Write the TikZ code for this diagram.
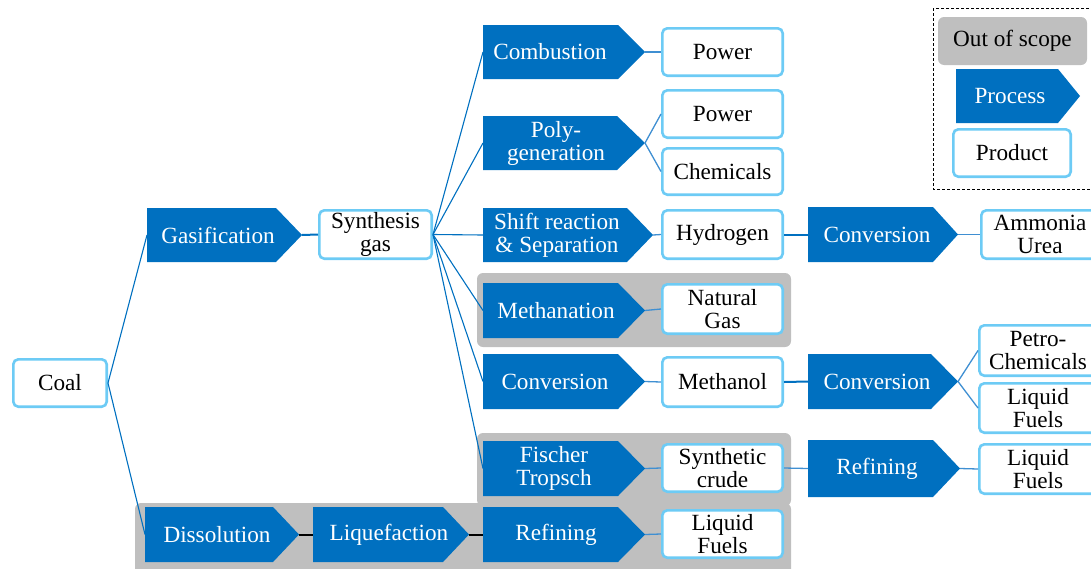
\documentclass[tikz,border=0pt]{standalone}
\usepackage{fontspec}
\setmainfont{Liberation Serif}
\newcommand\dgfont{\fontsize{23.2}{23}\selectfont}
\definecolor{procfill}{HTML}{0070C0}
\definecolor{prodline}{HTML}{6DCBF5}
\definecolor{scopegray}{HTML}{BFBFBF}
\definecolor{linkblue}{HTML}{0070C0}
\definecolor{tipblue}{HTML}{3F8FD2}

% process step: filled pentagon with its in/out points and a text label
% #1 name, #2 x0, #3 y0, #4 x1 (tip), #5 y1, #6 tip start, #7 text x, #8 text
\newcommand\procbox[8]{%
  \fill[procfill] (#2,#3) -- (#6,#3) -- (#4,{(#3+#5)/2}) -- (#6,#5) -- (#2,#5) -- cycle;
  \coordinate (#1-in) at (#2,{(#3+#5)/2});
  \coordinate (#1-out) at (#4,{(#3+#5)/2});
  \node[proctext] (#1) at (#7,{(#3+#5)/2}) {#8};
}
% product: white rounded box with light blue frame
% #1 name, #2 x0, #3 y0, #4 x1, #5 y1, #6 text
\newcommand\prodbox[6]{%
  \node[prod, minimum width={#4-#2-2.6}, minimum height={#5-#3-2.6}]
    (#1) at ({(#2+#4)/2},{(#3+#5)/2}) {#6};
}

\begin{document}
\begin{tikzpicture}[x=1pt,y=-1pt,
  prod/.style={draw=prodline, line width=2.6pt, rounded corners=5pt, fill=white,
    inner sep=0pt, align=center, font=\dgfont, text=black},
  proctext/.style={text=white, align=center, font=\dgfont, inner sep=0pt},
  fan/.style={draw=linkblue, line width=1.1pt},
  tiplink/.style={draw=tipblue, line width=1.3pt},
  feed/.style={draw=linkblue, line width=2pt},
  solidlink/.style={draw=black, line width=2pt},
  scopebox/.style={fill=scopegray, rounded corners=6pt}]
\useasboundingbox (0,0) rectangle (1091,568);

% out-of-scope regions
\fill[scopebox] (477,273) rectangle (791,347);
\fill[scopebox] (477,433) rectangle (791,506);
\fill[scopebox] (135,503) rectangle (791,580);

% legend
\draw[line width=0.9pt, dash pattern=on 3pt off 2pt] (933,8) rectangle (1100,189);
\node[scopebox, minimum width=149, minimum height=48, inner sep=0pt, font=\dgfont]
  (oos) at (1012.5,41) {Out of scope};
\procbox{legproc}{956}{69}{1080}{123}{1058}{1010}{Process}
\prodbox{legprod}{952}{128}{1072}{178}{Product}

% process steps
\procbox{gasif}{147}{208}{302}{262}{276}{218}{Gasification}
\procbox{comb}{483}{25}{645}{79}{618}{550}{Combustion}
\procbox{poly}{483}{116}{645}{170}{617}{556}{Poly-\\generation}
\procbox{shift}{483}{208}{653}{262}{627}{557}{Shift reaction\\\& Separation}
\procbox{meth}{483}{283}{645}{338}{618}{556}{Methanation}
\procbox{convA}{483}{354}{645}{409}{618}{555}{Conversion}
\procbox{ft}{483}{441}{645}{496}{618}{554}{Fischer\\Tropsch}
\procbox{diss}{145}{507}{299}{562}{273}{217}{Dissolution}
\procbox{liq}{313}{507}{469}{562}{443}{389}{Liquefaction}
\procbox{refB}{483}{507}{645}{562}{618}{556}{Refining}
\procbox{convH}{808}{207}{958}{262}{933}{877}{Conversion}
\procbox{convM}{808}{354}{958}{409}{931}{877}{Conversion}
\procbox{refR}{808}{440}{960}{497}{933}{877}{Refining}

% products
\prodbox{coal}{12}{358}{108}{408}{Coal}
\prodbox{syn}{318}{209}{433}{260}{Synthesis\\gas}
\prodbox{pow1}{661}{27}{784}{77}{Power}
\prodbox{pow2}{661}{89}{784}{139}{Power}
\prodbox{chem}{661}{147}{784}{196}{Chemicals}
\prodbox{hyd}{661}{209}{784}{260}{Hydrogen}
\prodbox{ammo}{980}{209}{1100}{260}{Ammonia\\Urea}
\prodbox{ng}{661}{283}{784}{335}{Natural\\Gas}
\prodbox{methl}{661}{356}{784}{408}{Methanol}
\prodbox{petro}{978}{324}{1098}{377}{Petro-\\Chemicals}
\prodbox{lfA}{978}{382}{1098}{434}{Liquid\\Fuels}
\prodbox{sc}{661}{443}{784}{493}{Synthetic\\crude}
\prodbox{lfB}{978}{443}{1098}{495}{Liquid\\Fuels}
\prodbox{lfC}{661}{509}{784}{559}{Liquid\\Fuels}

% connectors
\draw[fan] (coal.east) -- (gasif-in);
\draw[fan] (coal.east) -- (diss-in);
\draw[feed] (gasif-out) -- (syn.west);
\foreach \t in {comb,poly,shift,meth,convA,ft}
  \draw[fan] (syn.east) -- (\t-in);
\draw[tiplink] (comb-out) -- (pow1.west);
\draw[tiplink] (poly-out) -- (pow2.west);
\draw[tiplink] (poly-out) -- (chem.west);
\draw[tiplink] (shift-out) -- (hyd.west);
\draw[feed] (hyd.east) -- (convH-in);
\draw[tiplink] (convH-out) -- (ammo.west);
\draw[tiplink] (meth-out) -- (ng.west);
\draw[tiplink] (convA-out) -- (methl.west);
\draw[feed] (methl.east) -- (convM-in);
\draw[tiplink] (convM-out) -- (petro.west);
\draw[tiplink] (convM-out) -- (lfA.west);
\draw[tiplink] (ft-out) -- (sc.west);
\draw[tiplink] (sc.east) -- (refR-in);
\draw[tiplink] (refR-out) -- (lfB.west);
\draw[solidlink] (diss-out) -- (liq-in);
\draw[solidlink] (liq-out) -- (refB-in);
\draw[tiplink] (refB-out) -- (lfC.west);
\end{tikzpicture}
\end{document}
